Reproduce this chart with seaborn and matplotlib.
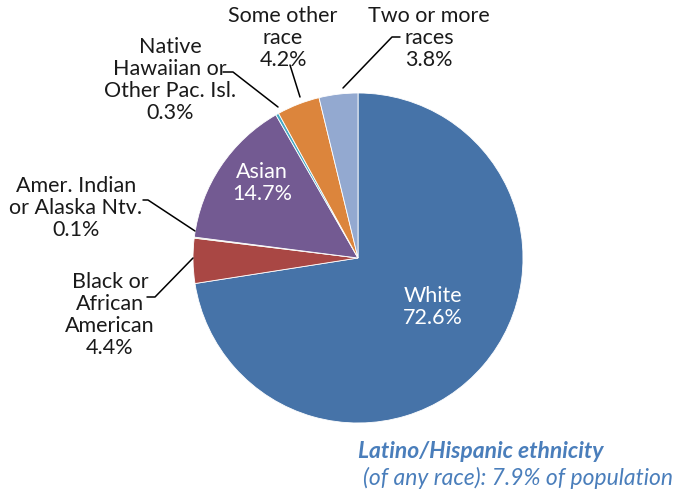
import matplotlib
matplotlib.use("Agg")
import matplotlib.pyplot as plt
import seaborn as sns

categories = ["White", "Black or\nAfrican\nAmerican", "Amer. Indian\nor Alaska Ntv.",
              "Asian", "Native\nHawaiian or\nOther Pac. Isl.", "Some other\nrace", "Two or more\nraces"]
values = [72.6, 4.4, 0.1, 14.7, 0.3, 4.2, 3.8]
colors = ["#4673A8", "#A94744", "#8CAA4C", "#735A92", "#46A9C3", "#DC853C", "#93A9D0"]

sns.set_style("white")
plt.rcParams["font.family"] = ["Lato", "DejaVu Sans"]

W, H = 682, 495
fig = plt.figure(figsize=(W / 100, H / 100), dpi=100)
ax = fig.add_axes([0, 0, 1, 1])

cx, cy, r = 358, H - 258, 165
wedges, _ = ax.pie(values, colors=sns.color_palette(colors), startangle=90, counterclock=False,
                   center=(cx, cy), radius=r, frame=True,
                   wedgeprops=dict(edgecolor="white", linewidth=0.6))
ax.set_xlim(0, W)
ax.set_ylim(0, H)
ax.set_aspect("equal")
ax.axis("off")

fs = 15.5
ls = 1.13
def y(p):
    return H - p

# inside labels
ax.text(433, y(307), f"{categories[0]}\n{values[0]}%", color="white", fontsize=fs,
        ha="center", va="center", linespacing=ls)
ax.text(262, y(183), f"{categories[3]}\n{values[3]}%", color="white", fontsize=fs,
        ha="center", va="center", linespacing=ls)

# outside labels with leaders
outside = [
    (1, 110, 315, [(147, 297), (155, 297), (193, 258)]),
    (2, 76, 208, [(143, 200), (148, 200), (195, 231)]),
    (4, 170, 80, [(223, 72), (233, 72), (278, 107)]),
    (5, 283, 38, [(290, 65), (300, 97)]),
    (6, 429, 38, [(400, 37), (392, 37), (343, 88)]),
]
for idx, tx, ty, pts in outside:
    ax.text(tx, y(ty), f"{categories[idx]}\n{values[idx]}%", color="#1a1a1a", fontsize=fs,
            ha="center", va="center", linespacing=ls)
    ax.plot([p[0] for p in pts], [y(p[1]) for p in pts], color="black", lw=1.1)

note_color = "#4A7EBB"
ax.text(358, y(452), "Latino/Hispanic ethnicity", color=note_color, fontsize=16.5,
        fontweight="bold", fontstyle="italic", ha="left", va="center")
ax.text(363, y(478), "(of any race): 7.9% of population", color=note_color, fontsize=16.5,
        fontstyle="italic", ha="left", va="center")

fig.savefig("out.png", dpi=100)
